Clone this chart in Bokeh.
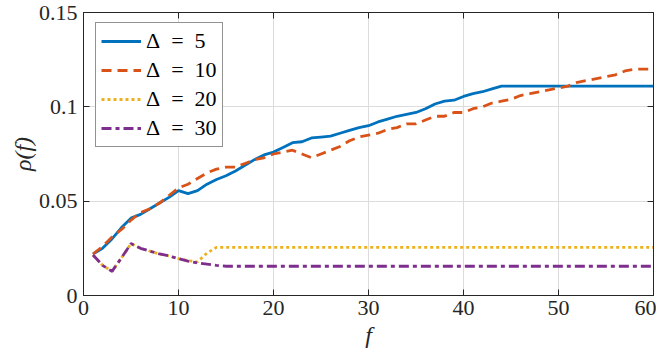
from bokeh.plotting import figure
from bokeh.models import FixedTicker, LinearAxis, Range1d, Legend, LegendItem
from bokeh.embed import file_html
from bokeh.resources import INLINE

f_vals = list(range(1, 61))

rho_d5 = [0.022, 0.025, 0.030, 0.036, 0.041, 0.043, 0.046, 0.049, 0.052, 0.0556,
          0.054, 0.0556, 0.059, 0.0615, 0.0635, 0.066, 0.069, 0.072, 0.0745, 0.076,
          0.0785, 0.081, 0.0815, 0.0835, 0.084, 0.0845, 0.086, 0.0875, 0.089, 0.090,
          0.092, 0.0935, 0.095, 0.096, 0.097, 0.099, 0.1015, 0.103, 0.1035, 0.1055,
          0.107, 0.108, 0.1095, 0.111, 0.111, 0.111, 0.111, 0.111, 0.111, 0.111,
          0.111, 0.111, 0.111, 0.111, 0.111, 0.111, 0.111, 0.111, 0.111, 0.111]

rho_d10 = [0.022, 0.026, 0.031, 0.035, 0.040, 0.044, 0.046, 0.049, 0.053, 0.057,
           0.059, 0.062, 0.065, 0.067, 0.068, 0.068, 0.070, 0.072, 0.073, 0.075,
           0.076, 0.077, 0.075, 0.073, 0.075, 0.077, 0.079, 0.082, 0.084, 0.085,
           0.086, 0.088, 0.089, 0.091, 0.091, 0.093, 0.095, 0.095, 0.097, 0.097,
           0.099, 0.100, 0.102, 0.103, 0.104, 0.106, 0.107, 0.108, 0.109, 0.110,
           0.111, 0.113, 0.114, 0.115, 0.116, 0.117, 0.119, 0.120, 0.120, 0.120]

rho_d20 = [0.0215, 0.016, 0.0128, 0.020, 0.0275, 0.025, 0.0235, 0.022, 0.021, 0.0195,
           0.0185, 0.0178, 0.0225, 0.0255, 0.0255, 0.0255, 0.0255, 0.0255, 0.0255, 0.0255,
           0.0255, 0.0255, 0.0255, 0.0255, 0.0255, 0.0255, 0.0255, 0.0255, 0.0255, 0.0255,
           0.0255, 0.0255, 0.0255, 0.0255, 0.0255, 0.0255, 0.0255, 0.0255, 0.0255, 0.0255,
           0.0255, 0.0255, 0.0255, 0.0255, 0.0255, 0.0255, 0.0255, 0.0255, 0.0255, 0.0255,
           0.0255, 0.0255, 0.0255, 0.0255, 0.0255, 0.0255, 0.0255, 0.0255, 0.0255, 0.0255]

rho_d30 = [0.0215, 0.016, 0.0128, 0.020, 0.0275, 0.025, 0.0235, 0.022, 0.021, 0.0195,
           0.0182, 0.0172, 0.0166, 0.016, 0.0155, 0.0155, 0.0155, 0.0155, 0.0155, 0.0155,
           0.0155, 0.0155, 0.0155, 0.0155, 0.0155, 0.0155, 0.0155, 0.0155, 0.0155, 0.0155,
           0.0155, 0.0155, 0.0155, 0.0155, 0.0155, 0.0155, 0.0155, 0.0155, 0.0155, 0.0155,
           0.0155, 0.0155, 0.0155, 0.0155, 0.0155, 0.0155, 0.0155, 0.0155, 0.0155, 0.0155,
           0.0155, 0.0155, 0.0155, 0.0155, 0.0155, 0.0155, 0.0155, 0.0155, 0.0155, 0.0155]

series_labels = ["Δ\u2002=\u20025", "Δ\u2002=\u200210", "Δ\u2002=\u200220", "Δ\u2002=\u200230"]
x_ticks = [0, 10, 20, 30, 40, 50, 60]
y_ticks = [0, 0.05, 0.1, 0.15]
y_tick_labels = ["0", "0.05", "0.1", "0.15"]

FONT = '"Liberation Serif", serif'
AX = "#262626"

p = figure(width=656, height=352, output_backend="svg", toolbar_location=None,
           x_range=Range1d(0, 60), y_range=Range1d(0, 0.15),
           min_border_left=83, min_border_right=3, min_border_top=12, min_border_bottom=57)
p.outline_line_color = AX
p.outline_line_width = 1
p.background_fill_color = "white"

for ax in (p.xaxis[0], p.yaxis[0]):
    ax.axis_line_color = AX
    ax.major_tick_line_color = AX
    ax.minor_tick_line_color = None
    ax.major_tick_in = 6
    ax.major_tick_out = 0
    ax.minor_tick_in = 0
    ax.minor_tick_out = 0
    ax.major_label_text_font = FONT
    ax.major_label_text_font_size = "22px"
    ax.major_label_text_color = AX
    ax.axis_label_text_font = FONT
    ax.axis_label_text_font_style = "italic"
    ax.axis_label_text_font_size = "24px"
    ax.axis_label_text_color = AX

p.xaxis[0].ticker = FixedTicker(ticks=x_ticks)
p.yaxis[0].ticker = FixedTicker(ticks=y_ticks)
p.yaxis[0].major_label_overrides = {t: l for t, l in zip(y_ticks, y_tick_labels)}
p.xaxis[0].axis_label = "f"
p.yaxis[0].axis_label = "ρ(f)"
p.xaxis[0].major_label_standoff = 5
p.yaxis[0].major_label_standoff = 6
p.xaxis[0].axis_label_standoff = 4
p.yaxis[0].axis_label_standoff = 0

for loc in ("above", "right"):
    ticks = x_ticks if loc == "above" else y_ticks
    ax = LinearAxis(ticker=FixedTicker(ticks=ticks))
    ax.axis_line_color = AX
    ax.major_tick_line_color = AX
    ax.minor_tick_line_color = None
    ax.major_tick_in = 6
    ax.major_tick_out = 0
    ax.minor_tick_in = 0
    ax.minor_tick_out = 0
    ax.major_label_overrides = {t: "" for t in ticks}
    ax.major_label_text_font_size = "1px"
    ax.major_label_standoff = 0
    p.add_layout(ax, loc)

p.xgrid.grid_line_color = "#dcdcdc"
p.ygrid.grid_line_color = "#dcdcdc"
p.xgrid.ticker = FixedTicker(ticks=x_ticks)
p.ygrid.ticker = FixedTicker(ticks=y_ticks)

styles = [
    ("#0072BD", "solid", rho_d5),
    ("#D95319", "10 6", rho_d10),
    ("#EDB120", "3 3", rho_d20),
    ("#7E2F8E", "10 4 4 4", rho_d30),
]
items = []
for (color, dash, ys), lab in zip(styles, series_labels):
    r = p.line(f_vals, ys, line_color=color, line_width=2.8, line_dash=dash)
    items.append(LegendItem(label=lab, renderers=[r]))

legend = Legend(items=items, location=(12, 148))
legend.padding = 5
legend.spacing = 3
legend.glyph_width = 40
legend.glyph_height = 20
legend.label_standoff = 5
legend.label_text_font = FONT
legend.label_text_font_size = "22px"
legend.label_text_color = "black"
legend.label_height = 20
legend.border_line_color = AX
legend.border_line_width = 1
legend.background_fill_alpha = 1
p.add_layout(legend, "center")

open("out.html", "w").write(file_html(p, INLINE))
